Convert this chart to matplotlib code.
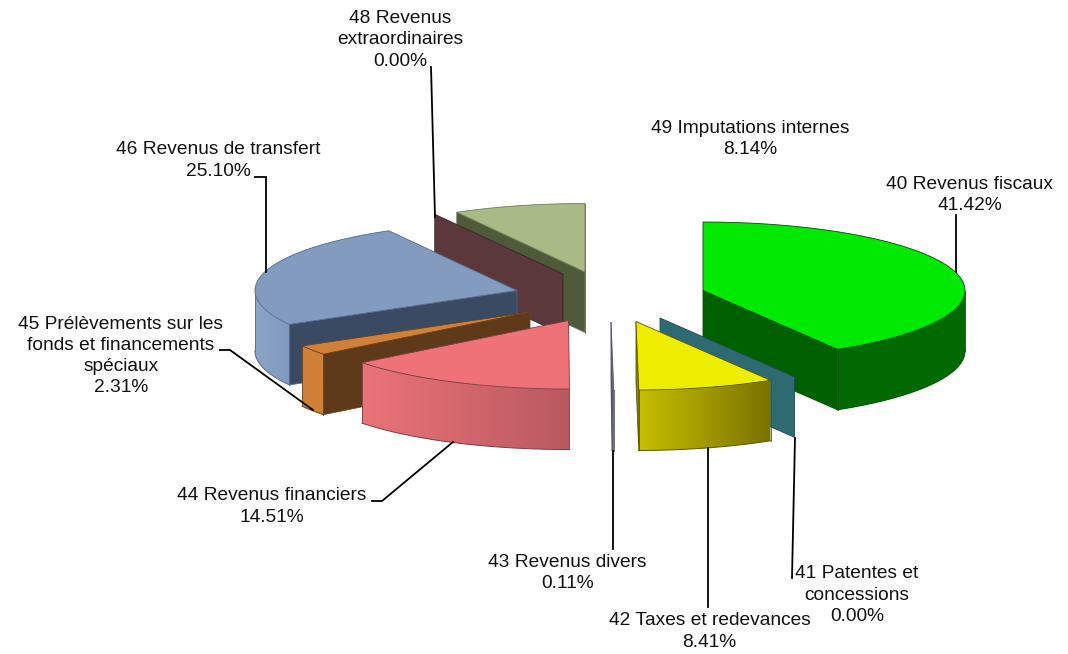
"""
Exploded 3D pie of revenue accounts, projected by hand since
matplotlib has no real 3D pie.
"""

from itertools import count

import numpy as np
import matplotlib
matplotlib.use("Agg")
import matplotlib.pyplot as plt
from matplotlib.colors import to_rgb
from matplotlib.patches import Polygon

plt.rcParams["font.family"] = ["Liberation Sans", "DejaVu Sans"]

# Data
names = [
    "40 Revenus fiscaux",
    "41 Patentes et\nconcessions",
    "42 Taxes et redevances",
    "43 Revenus divers",
    "44 Revenus financiers",
    "45 Prélèvements sur les\nfonds et financements\nspéciaux",
    "46 Revenus de transfert",
    "48 Revenus\nextraordinaires",
    "49 Imputations internes",
]
shares = [41.42, 0.00, 8.41, 0.11, 14.51, 2.31, 25.10, 0.00, 8.14]

# Layout (pixels of the 1068x654 picture)
apex_x = [703, 660, 636, 611, 568.5, 530, 517, 563, 585]
apex_y = [290.5, 318, 321.5, 322, 320.5, 312, 290.5, 274, 272]
RX, RY, DEPTH = 262, 68.5, 60.5
label_x = [969.5, 857, 709.5, 567.5, 271.5, 121, 218, 400, 750]
label_y = [195, 595, 631.5, 573, 506.5, 356, 160.5, 40, 139]
leaders = [
    [(955.5, 215), (955.5, 272)],
    [(795, 438), (792, 578)],
    [(708, 448), (708, 607)],
    [(613, 451), (613, 549)],
    [(372, 501), (382, 501), (453, 442)],
    [(220, 350), (230, 350), (313, 410)],
    [(255, 177), (266, 177), (266, 272)],
    [(431, 67), (435, 217)],
    None,
]

# Styles: top, radial face, wall on the right, wall on the left, edge
styles = [
    ("#00e900", "#006000", "#006a00", "#006a00", "#005000"),
    ("#2e6a72", "#2e6a72", "#2e6a72", "#2e6a72", "#1f4a50"),
    ("#eded00", "#8a8400", "#7a7200", "#c6bf00", "#5c5600"),
    ("#6f6f8f", "#6f6f8f", "#6f6f8f", "#6f6f8f", "#55556f"),
    ("#ee7277", "#b85a60", "#b85a60", "#ea7378", "#7d3d40"),
    ("#d08038", "#5e3a1a", "#d08038", "#d08038", "#6b4018"),
    ("#829bbf", "#3a4a63", "#7f98bc", "#8ca5c8", "#55698a"),
    ("#5a383c", "#5a383c", "#5a383c", "#5a383c", "#3a2428"),
    ("#a9ba87", "#4e5a3a", "#a9ba87", "#a9ba87", "#6f7c58"),
]
draw_order = [8, 7, 6, 5, 4, 0, 1, 2, 3]

layer = count(1)


def rim(theta, cx, cy):
    """Screen position of the rim at clockwise angle theta (degrees from top)."""
    t = np.radians(theta)
    return cx + RX * np.sin(t), cy - RY * np.cos(t)


def draw_wall(ax, lo, hi, cx, cy, wall_right, wall_left, edge):
    """Outer wall with a left-right gradient, clipped image inside a polygon."""
    arc = np.linspace(lo, hi, 60)
    xs, ys = rim(arc, cx, cy)
    pts = np.column_stack([np.r_[xs, xs[::-1]], np.r_[ys, ys[::-1] + DEPTH]])

    ramp = np.linspace(0, 1, 128)[:, None]
    grad = ramp * np.array(to_rgb(wall_right)) + (1 - ramp) * np.array(to_rgb(wall_left))
    z = next(layer)
    im = ax.imshow(grad[None, :, :], extent=(xs.min(), xs.max(), 654, 0),
                   aspect="auto", zorder=z)
    im.set_clip_path(Polygon(pts, closed=True, transform=ax.transData))

    z = next(layer)
    ax.plot(xs, ys + DEPTH, color=edge, lw=0.7, zorder=z)
    for theta in (lo, hi):
        x, y = rim(theta, cx, cy)
        ax.plot([x, x], [y, y + DEPTH], color=edge, lw=0.6, zorder=z)


def draw_slice(ax, start, end, cx, cy, style):
    top, face, wall_right, wall_left, edge = style

    # Radial faces that look towards the viewer
    for theta, show in ((start, np.sin(np.radians(start)) < 0),
                        (end, np.sin(np.radians(end)) > 0)):
        if show:
            x, y = rim(theta, cx, cy)
            pts = [(cx, cy), (x, y), (x, y + DEPTH), (cx, cy + DEPTH)]
            ax.add_patch(Polygon(pts, closed=True, facecolor=face, edgecolor=edge,
                                 linewidth=0.6, zorder=next(layer)))

    # Outer wall, front half only
    lo, hi = max(start, 90), min(end, 270)
    if hi > lo:
        draw_wall(ax, lo, hi, cx, cy, wall_right, wall_left, edge)

    # Top surface
    if end > start:
        arc = np.linspace(start, end, 80)
        xs, ys = rim(arc, cx, cy)
        pts = np.column_stack([np.r_[cx, xs], np.r_[cy, ys]])
        ax.add_patch(Polygon(pts, closed=True, facecolor=top, edgecolor=edge,
                             linewidth=0.6, zorder=next(layer)))


fig = plt.figure(figsize=(10.68, 6.54), dpi=100)
ax = fig.add_axes([0, 0, 1, 1])
ax.axis("off")

edges = np.r_[0, np.cumsum(shares)] * 3.6
for i in draw_order:
    draw_slice(ax, edges[i], edges[i + 1], apex_x[i], apex_y[i], styles[i])

for line in leaders:
    if line:
        xs, ys = zip(*line)
        ax.plot(xs, ys, color="black", lw=1.3, solid_joinstyle="miter",
                zorder=next(layer))

for name, share, x, y in zip(names, shares, label_x, label_y):
    ax.text(x, y, f"{name}\n{share:.2f}%", ha="center", va="center",
            fontsize=13.8, color="#111111", linespacing=1.33, zorder=next(layer))

ax.set_xlim(0, 1068)
ax.set_ylim(654, 0)

fig.savefig("out.png", dpi=100)
